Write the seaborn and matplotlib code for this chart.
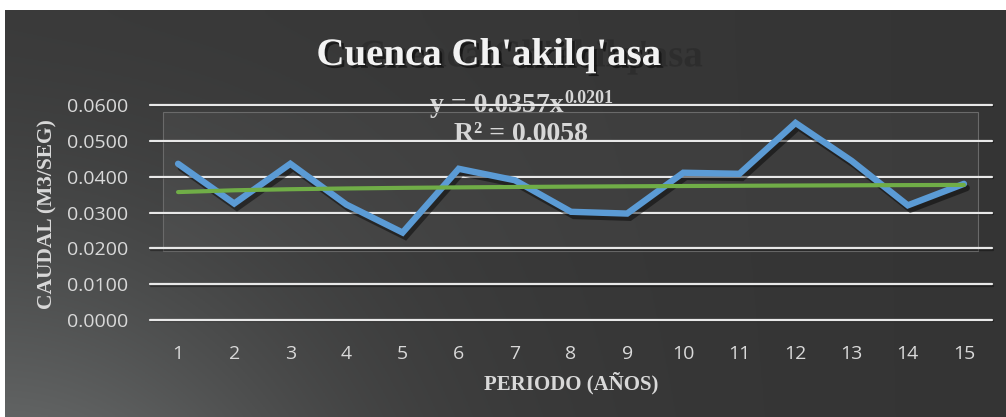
import numpy as np
import pandas as pd
import matplotlib
matplotlib.use("Agg")
import matplotlib.pyplot as plt
import matplotlib.patheffects as pe
from matplotlib.patches import Rectangle
import seaborn as sns

# ---------------- data ----------------
periodos = list(range(1, 16))
caudal = [0.0436, 0.0325, 0.0436, 0.0322, 0.0244, 0.0422, 0.0390, 0.0302,
          0.0297, 0.0411, 0.0408, 0.0550, 0.0444, 0.0320, 0.0380]
trend_a = 0.0357
trend_b = 0.0201
y_ticks = [0.0, 0.01, 0.02, 0.03, 0.04, 0.05, 0.06]
y_tick_labels = ["0.0000", "0.0100", "0.0200", "0.0300", "0.0400", "0.0500", "0.0600"]
title = "Cuenca Ch'akilq'asa"
eq_text = "y = 0.0357x"
eq_exp = "0.0201"
r2_text = "R² = 0.0058"
x_label = "PERIODO (AÑOS)"
y_label = "CAUDAL (M3/SEG)"

df = pd.DataFrame({"periodo": periodos, "caudal": caudal})
x_arr = np.array(periodos, dtype=float)
df["trend"] = trend_a * x_arr ** trend_b

sns.set_theme(style="white")
plt.rcParams["font.family"] = ["Open Sans", "DejaVu Sans"]

W, H = 1006, 417
fig = plt.figure(figsize=(W / 100, H / 100), dpi=100, facecolor="white")


def px(x, y):
    return (x / W, 1 - y / H)


# ---------------- background gradient ----------------
bg = fig.add_axes([5 / W, 0, (W - 5) / W, (H - 10) / H], zorder=-10)
gx, gy = np.meshgrid(np.linspace(0, 1, 400), np.linspace(0, 1, 200))
v = 0.205 + 0.025 * (1 - gx) + 0.15 * np.exp(-(gx / 0.33) ** 2) * gy ** 1.6
rgb = np.dstack([v, v + 0.008 * gy * np.exp(-(gx / 0.3) ** 2),
                 v + 0.008 * gy * np.exp(-(gx / 0.3) ** 2)])
bg.imshow(np.clip(rgb, 0, 1), aspect="auto", extent=[0, 1, 0, 1], origin="upper")
bg.axis("off")

# ---------------- main axes ----------------
left, right, top, bottom = 150, 992, 105, 320
ax = fig.add_axes([left / W, 1 - bottom / H, (right - left) / W, (bottom - top) / H])
ax.set_facecolor("none")

# faint panel box
box = Rectangle(px(163, 251), (978 - 163) / W, (251 - 112) / H, transform=fig.transFigure,
                facecolor="#ffffff", alpha=0.045, edgecolor="none", zorder=0.3)
ax.add_artist(box)
boxe = Rectangle(px(163, 251), (978 - 163) / W, (251 - 112) / H, transform=fig.transFigure,
                 facecolor="none", edgecolor="#6a6a6a", lw=0.8, zorder=0.35)
ax.add_artist(boxe)

ax.set_xlim(0.5, 15.5)
ax.set_ylim(0, 0.06)
ax.set_yticks(y_ticks)
ax.set_yticklabels(y_tick_labels)
ax.set_xticks(periodos)
ax.set_xticklabels([str(p) for p in periodos])
for s in ax.spines.values():
    s.set_visible(False)
for yt in y_ticks:
    ax.axhline(yt, color="#e8e8e8", lw=1.6, zorder=0.5, clip_on=False,
               path_effects=[pe.SimpleLineShadow(offset=(1, -1), alpha=0.35, shadow_color="black"),
                             pe.Normal()])
ax.tick_params(axis="both", length=0, colors="#d9d9d9", labelsize=14)
ax.tick_params(axis="y", pad=16)
ax.tick_params(axis="x", pad=18)

sns.lineplot(data=df, x="periodo", y="caudal", ax=ax, color="#5b9bd5", lw=4.6,
             zorder=3, clip_on=False)
ax.lines[-1].set_path_effects([pe.SimpleLineShadow(offset=(2, -3), alpha=0.45, shadow_color="black"),
                               pe.Normal()])
ax.lines[-1].set_solid_joinstyle("miter")
sns.lineplot(data=df, x="periodo", y="trend", ax=ax, color="#70ad47", lw=3.0, zorder=4,
             clip_on=False)
ax.set_xlabel("")
ax.set_ylabel("")

# ---------------- texts ----------------
serif = ["Liberation Serif", "DejaVu Serif"]
fig.text(*px(489, 65), title, ha="center", va="baseline", fontsize=28, fontweight="bold",
         family=serif, color="#f2f2f2", zorder=2,
         path_effects=[pe.SimplePatchShadow(offset=(30, -1), shadow_rgbFace="#1e1e1e", alpha=0.35),
                       pe.SimplePatchShadow(offset=(2, -2), shadow_rgbFace="black", alpha=0.5),
                       pe.Normal()])

ax.text(*px(564, 112), eq_text, transform=fig.transFigure, ha="right", va="baseline",
        fontsize=20, fontweight="bold", family=serif, color="#d6d6d6", zorder=0.2)
ax.text(*px(564, 103), eq_exp, transform=fig.transFigure, ha="left", va="baseline",
        fontsize=13, fontweight="bold", family=serif, color="#d6d6d6", zorder=0.2)
ax.text(*px(521, 141), r2_text, transform=fig.transFigure, ha="center", va="baseline",
        fontsize=20, fontweight="bold", family=serif, color="#d6d6d6", zorder=0.2)

fig.text(*px(571, 383), x_label, ha="center", va="center", fontsize=15, fontweight="bold",
         family=serif, color="#d9d9d9")
fig.text(*px(47, 214), y_label, ha="center", va="center", rotation=90, fontsize=15.5,
         fontweight="bold", family=serif, color="#d9d9d9")

fig.savefig("out.png", dpi=100, facecolor="white")
